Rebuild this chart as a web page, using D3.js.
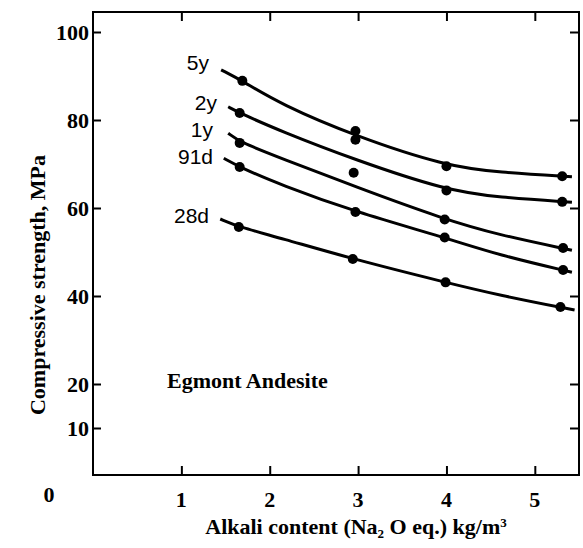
<!DOCTYPE html>
<html>
<head>
<meta charset="utf-8">
<script src="https://cdn.jsdelivr.net/npm/d3@7"></script>
<style>
  body { margin: 0; background: #fff; }
  svg { display: block; }
</style>
</head>
<body>
<div id="chart"></div>
<script>
// series names, in order from top curve to bottom curve
let seriesNames = ["5y", "2y", "1y", "91d", "28d"];

// measured points [alkali, strength]
let points5y  = [[1.69, 88.9], [2.97, 77.5], [4.00, 69.5], [5.31, 67.2]];
let points2y  = [[1.66, 81.6], [2.97, 75.5], [4.00, 64.0], [5.31, 61.4]];
let points1y  = [[1.66, 74.8], [2.95, 68.0], [3.98, 57.4], [5.32, 50.9]];
let points91d = [[1.66, 69.3], [2.97, 59.1], [3.98, 53.3], [5.32, 45.9]];
let points28d = [[1.65, 55.7], [2.94, 48.4], [3.99, 43.1], [5.29, 37.5]];

// fitted curves
let curve5y  = [[1.45, 91.4], [1.69, 88.9], [2.12, 83.6], [2.97, 76.3], [4.00, 69.5], [4.59, 68.1], [5.42, 67.1]];
let curve2y  = [[1.53, 83.0], [1.66, 81.6], [2.12, 77.5], [2.97, 70.9], [4.00, 64.0], [4.59, 62.4], [5.42, 61.3]];
let curve1y  = [[1.53, 77.0], [1.66, 75.0], [2.12, 71.4], [2.97, 64.8], [3.98, 57.4], [4.59, 53.9], [5.42, 50.4]];
let curve91d = [[1.48, 71.3], [1.66, 69.3], [2.12, 65.3], [2.97, 59.1], [3.98, 53.3], [4.59, 49.3], [5.42, 45.4]];
let curve28d = [[1.44, 57.5], [1.65, 55.7], [2.12, 53.2], [2.94, 48.4], [3.99, 43.1], [4.59, 40.2], [5.45, 36.8]];

let allPoints = [points5y, points2y, points1y, points91d, points28d];
let allCurves = [curve5y, curve2y, curve1y, curve91d, curve28d];

// tick values
let xTicks = [1, 2, 3, 4, 5];
let yTicks = [10, 20, 40, 60, 80, 100];

let width = 583, height = 548;

let svg = d3.select("#chart").append("svg")
  .attr("width", width)
  .attr("height", height);

let x = d3.scaleLinear().domain([0, 5.5]).range([93, 579]);
let y = d3.scaleLinear().domain([0, 100]).range([472, 32]);

let frameLeft = 93, frameRight = 579, frameTop = 12, frameBottom = 475;

let serif = "'Liberation Serif', 'Times New Roman', serif";

// frame
svg.append("rect")
  .attr("x", frameLeft)
  .attr("y", frameTop)
  .attr("width", frameRight - frameLeft)
  .attr("height", frameBottom - frameTop)
  .style("fill", "none")
  .style("stroke", "black")
  .style("stroke-width", 2);

// inward ticks on all four sides
function tickSide(axis, tx, ty) {
  svg.append("g")
    .attr("transform", "translate(" + tx + "," + ty + ")")
    .call(axis)
    .call(g => g.select(".domain").remove())
    .selectAll("line").style("stroke-width", 2);
}
tickSide(d3.axisRight(y).tickValues(yTicks).tickSize(8).tickFormat(""), frameLeft, 0);
tickSide(d3.axisLeft(y).tickValues(yTicks).tickSize(9).tickFormat(""), frameRight, 0);
tickSide(d3.axisTop(x).tickValues(xTicks).tickSize(9).tickFormat(""), 0, frameBottom);
tickSide(d3.axisBottom(x).tickValues(xTicks).tickSize(9).tickFormat(""), 0, frameTop);

// y tick labels
svg.selectAll(".ylab")
  .data(yTicks)
  .enter()
  .append("text")
  .attr("class", "ylab")
  .attr("x", 89)
  .attr("y", d => y(d))
  .attr("dy", "0.35em")
  .attr("text-anchor", "end")
  .style("font-family", serif)
  .style("font-weight", "bold")
  .style("font-size", "22px")
  .text(d => d);

// the lone zero in the corner
svg.append("text")
  .attr("x", 49)
  .attr("y", 494)
  .attr("dy", "0.35em")
  .attr("text-anchor", "middle")
  .style("font-family", serif)
  .style("font-weight", "bold")
  .style("font-size", "22px")
  .text("0");

// x tick labels
svg.selectAll(".xlab")
  .data(xTicks)
  .enter()
  .append("text")
  .attr("class", "xlab")
  .attr("x", d => x(d))
  .attr("y", 499)
  .attr("dy", "0.35em")
  .attr("text-anchor", "middle")
  .style("font-family", serif)
  .style("font-weight", "bold")
  .style("font-size", "22px")
  .text(d => d);

// y axis title
svg.append("text")
  .attr("transform", "translate(37,285) rotate(-90)")
  .attr("dy", "0.35em")
  .attr("text-anchor", "middle")
  .style("font-family", serif)
  .style("font-weight", "bold")
  .style("font-size", "22px")
  .text("Compressive strength, MPa");

// x axis title with sub/superscript
let xt = svg.append("text")
  .attr("x", 356)
  .attr("y", 534)
  .attr("text-anchor", "middle")
  .style("font-family", serif)
  .style("font-weight", "bold")
  .style("font-size", "22px");
xt.append("tspan").text("Alkali content (Na");
xt.append("tspan").attr("dy", 4).style("font-size", "13px").text("2");
xt.append("tspan").attr("dy", -4).text(" O eq.) kg/m");
xt.append("tspan").attr("dy", -7).style("font-size", "13px").text("3");

// annotation
svg.append("text")
  .attr("x", 167)
  .attr("y", 388)
  .style("font-family", serif)
  .style("font-weight", "bold")
  .style("font-size", "22px")
  .text("Egmont Andesite");

// curves
let line = d3.line()
  .x(d => x(d[0]))
  .y(d => y(d[1]))
  .curve(d3.curveBasis);

svg.selectAll(".curve")
  .data(allCurves)
  .enter()
  .append("path")
  .attr("class", "curve")
  .attr("d", line)
  .style("fill", "none")
  .style("stroke", "black")
  .style("stroke-width", 3);

// points
allPoints.forEach(function(pts) {
  svg.selectAll(null)
    .data(pts)
    .enter()
    .append("circle")
    .attr("cx", d => x(d[0]))
    .attr("cy", d => y(d[1]))
    .attr("r", 5)
    .style("fill", "black");
});

// series labels at the left end of each curve
let labelPos = [[209, 63], [217, 103], [213, 130], [213, 157], [209, 216]];
svg.selectAll(".slab")
  .data(seriesNames)
  .enter()
  .append("text")
  .attr("class", "slab")
  .attr("x", (d, i) => labelPos[i][0])
  .attr("y", (d, i) => labelPos[i][1])
  .attr("dy", "0.35em")
  .attr("text-anchor", "end")
  .style("font-family", "'Liberation Sans', sans-serif")
  .style("font-size", "21px")
  .text(d => d);
</script>
</body>
</html>
